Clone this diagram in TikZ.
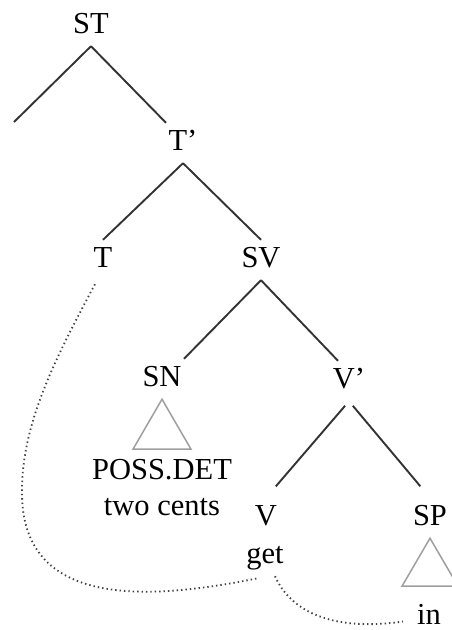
\documentclass[tikz,border=0pt]{standalone}
\usepackage{fontspec}
\setmainfont{Liberation Serif}
\usepackage{tikz}

\tikzset{
    lbl/.style={font=\fontsize{30.5}{36}\selectfont, anchor=base, inner sep=6pt, text height=21pt, text depth=7pt},
    edge/.style={line width=1.9pt, black!80},
    tri/.style={line width=1.5pt, gray!75},
    trace/.style={line width=1.8pt, black!75, dash pattern=on 1.4pt off 3pt}
}

\begin{document}
\begin{tikzpicture}[x=1pt, y=-1pt]
        \useasboundingbox (0,0) rectangle (451,630);

        \node[lbl] (ST) at (91,33) {ST};
        \node[lbl] (Tbar) at (183,150) {T'};
        \node[lbl] (T) at (103,267) {T};
        \node[lbl] (SV) at (261,267) {SV};
        \node[lbl] (SN) at (162,386) {SN};
        \node[lbl] (Vbar) at (349,388) {V'};
        \node[lbl] (poss) at (162,479) {POSS.DET};
        \node[lbl] (cents) at (162,515) {two cents};
        \node[lbl] (V) at (266,525) {V};
        \node[lbl] (SP) at (430,525) {SP};
        \node[lbl] (get) at (265,563) {get};
        \node[lbl, text depth=0pt, inner ysep=1pt] (in) at (429,624) {in};
        \coordinate (spec) at (14,122);

        \draw[edge] (ST.south) -- (spec);
        \draw[edge] (ST.south) -- ([xshift=-17pt]Tbar.north);
        \draw[edge] (Tbar.south) -- (T.north);
        \draw[edge] (Tbar.south) -- (SV.north);
        \draw[edge] (SV.south) -- ([xshift=22pt]SN.north);
        \draw[edge] (SV.south) -- ([xshift=-11pt]Vbar.north);
        \draw[edge, shorten <=6pt, shorten >=15pt] (Vbar.south) -- (V.north);
        \draw[edge, shorten <=6pt, shorten >=15pt] (Vbar.south) -- (SP.north);

        % roofs
        \draw[tri] (SN.south) -- ++(-29,50) -- ++(58,0) -- cycle;
        \draw[tri] (SP.south) -- ++(-28,48) -- ++(56,0) -- cycle;

        % movement traces
        \draw[trace] ([xshift=-8pt,yshift=-4pt]T.south) .. controls (60,350) and (22,420) .. (22,490)
            .. controls (20,610) and (150,600) .. ([xshift=-7pt,yshift=-2pt]get.south);
        \draw[trace] ([xshift=10pt]get.south) .. controls (290,610) and (330,632) .. ([xshift=-8pt,yshift=-8pt]in.west);
    \end{tikzpicture}
\end{document}
